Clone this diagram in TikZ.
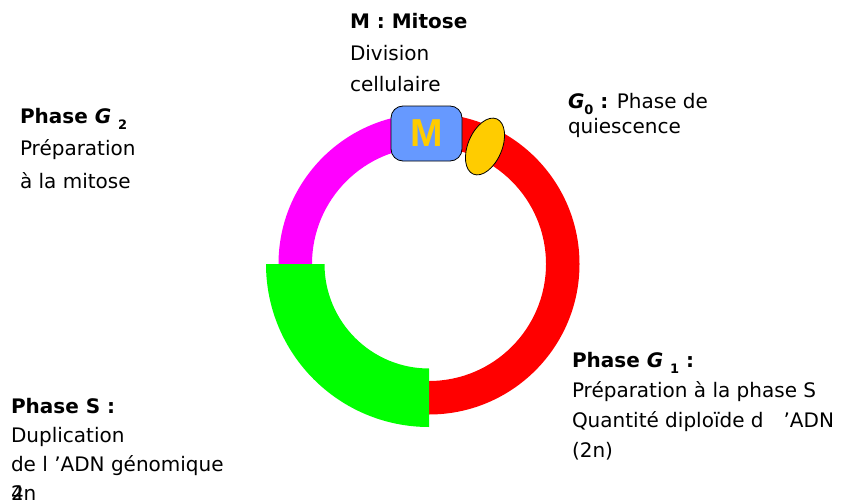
\documentclass[tikz,border=0pt]{standalone}
\usepackage{fontspec}
\setmainfont{DejaVu Sans}
\newfontfamily\boxfont{Liberation Sans}
\newcommand{\lowidx}[1]{\raisebox{-6pt}{\fontsize{13}{13}\selectfont\bfseries #1}}
\begin{document}
\begin{tikzpicture}[x=1pt,y=1pt,
  phasetext/.style={anchor=base west, align=left, inner sep=0pt, outer sep=0pt},
  mbox/.style={draw=black, line width=0.8pt, fill=mblue, rounded corners=12pt,
    minimum width=71pt, minimum height=55pt, inner sep=0pt,
    font=\boxfont\bfseries\fontsize{39}{39}\selectfont, text=gold},
  gzero/.style={draw=black, line width=0.8pt, fill=gold}
]
\definecolor{mblue}{HTML}{6699FF}
\definecolor{gold}{HTML}{FFCC00}
\definecolor{pmag}{HTML}{FF00FF}
\definecolor{pred}{HTML}{FF0000}
\definecolor{pgreen}{HTML}{00FF00}

\useasboundingbox (0,0) rectangle (843,-503);
\fill[white] (0,0) rectangle (843,-503);

\coordinate (C) at (429,-264);

% G2 sector (magenta)
\fill[pmag] ([shift={(90:150.5)}]C) arc[start angle=90, end angle=180, radius=150.5]
  -- ([shift={(180:117)}]C) arc[start angle=180, end angle=90, radius=117] -- cycle;
% G1 sector (red)
\fill[pred] ([shift={(-90:150.5)}]C) arc[start angle=-90, end angle=90, radius=150.5]
  -- ([shift={(90:117)}]C) arc[start angle=90, end angle=-90, radius=117] -- cycle;
% S sector (green, wider)
\fill[pgreen] ([shift={(180:163)}]C) arc[start angle=180, end angle=270, radius=163]
  -- ([shift={(270:104.5)}]C) arc[start angle=270, end angle=180, radius=104.5] -- cycle;

% mitosis box and quiescence oval
\node[mbox] (mitbox) at (426.5,-133.5) {M};
\draw[gzero] (485,-146.5) ellipse [x radius=17, y radius=30, rotate=-23];

% phase descriptions (anchored at the baseline of the last line)
\node[phasetext, font=\fontsize{20}{31.5}\selectfont] (mtxt) at (350,-91.5)
  {\textbf{M : Mitose}\\Division\\cellulaire};
\node[phasetext, font=\fontsize{20}{25}\selectfont] (g0txt) at (568,-133)
  {\textbf{\textit{G}\lowidx{0} :} Phase de\\quiescence};
\node[phasetext, font=\fontsize{20}{32.5}\selectfont] (g2txt) at (20,-188)
  {\textbf{Phase \textit{G} \lowidx{2}}\\Préparation\\à la mitose};
\node[phasetext, font=\fontsize{20}{30}\selectfont] (g1txt) at (572,-457)
  {\textbf{Phase \textit{G} \lowidx{1} :}\\Préparation à la phase S\\Quantité diploïde d\quad ’ADN\\(2n)};
\node[phasetext, font=\fontsize{20}{29}\selectfont] (stxt) at (11,-500)
  {\textbf{Phase S :}\\Duplication\\de l ’ADN génomique\\\rlap{2}4n};
\end{tikzpicture}
\end{document}
